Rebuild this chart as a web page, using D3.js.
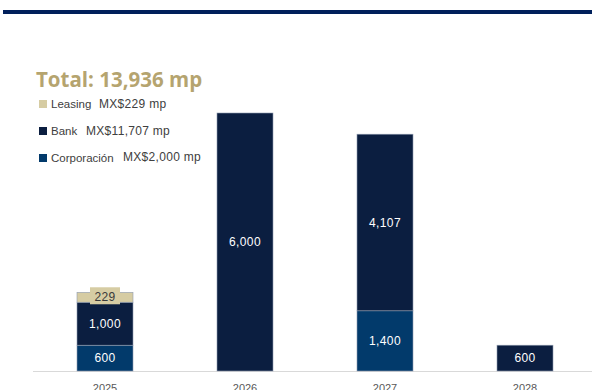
<!DOCTYPE html>
<html>
<head>
<meta charset="utf-8">
<script src="https://cdn.jsdelivr.net/npm/d3@7"></script>
<style>
  body { margin: 0; background: #fff; }
  svg { display: block; }
</style>
</head>
<body>
<div id="graph"></div>
<script>
// chart data
var years = ["2025", "2026", "2027", "2028"];
var corporacion = [600, 0, 1400, 0];
var bank = [1000, 6000, 4107, 600];
var leasing = [229, 0, 0, 0];

var seriesNames = ["Corporación", "Bank", "Leasing"];
var seriesColors = ["#023a6b", "#0b1e40", "#d6cca3"];
var legendNames = ["Leasing", "Bank", "Corporación"];
var legendValues = ["MX$229 mp", "MX$11,707 mp", "MX$2,000 mp"];
var legendColors = ["#d6cca3", "#0b1e40", "#023a6b"];
var titleText = "Total: 13,936 mp";

var width = 592, height = 390;

var svg = d3.select("#graph").append("svg")
    .attr("width", width)
    .attr("height", height);

// top rule
svg.append("rect")
    .attr("x", 3).attr("y", 10)
    .attr("width", width - 3).attr("height", 4)
    .attr("fill", "#00205b");

// build stacked rows from the arrays
var rows = years.map(function (y, i) {
    return { year: y, "Corporación": corporacion[i], "Bank": bank[i], "Leasing": leasing[i] };
});
var stack = d3.stack().keys(seriesNames);
var layers = stack(rows);

var x = d3.scaleBand().domain(years).range([35, 595]).paddingInner(0.6).paddingOuter(0.3);
var y = d3.scaleLinear().domain([0, 6000]).range([371, 113]);

var color = d3.scaleOrdinal().domain(seriesNames).range(seriesColors);

// baseline
svg.append("line")
    .attr("x1", 33).attr("x2", width)
    .attr("y1", 371.5).attr("y2", 371.5)
    .attr("stroke", "#d9d9d9").attr("stroke-width", 1);

var layerG = svg.selectAll(".layer")
    .data(layers)
    .enter().append("g")
    .attr("class", "layer")
    .attr("fill", function (d) { return color(d.key); });

layerG.selectAll("rect")
    .data(function (d) { return d.filter(function (s) { return s[1] - s[0] > 0; }); })
    .enter().append("rect")
    .attr("x", function (d) { return x(d.data.year); })
    .attr("y", function (d) { return y(d[1]); })
    .attr("width", x.bandwidth())
    .attr("height", function (d) { return y(d[0]) - y(d[1]); })
    .attr("stroke", "#8f9bb0")
    .attr("stroke-width", 0.6);

// value labels
layers.forEach(function (layer) {
    layer.forEach(function (d) {
        var v = d[1] - d[0];
        if (v <= 0) return;
        var cx = x(d.data.year) + x.bandwidth() / 2;
        var cy = (y(d[0]) + y(d[1])) / 2;
        var isLeasing = layer.key === "Leasing";
        if (isLeasing) {
            svg.append("rect")
                .attr("x", cx - 15).attr("y", cy - 10)
                .attr("width", 30).attr("height", 17)
                .attr("fill", "#d6cca3");
        }
        svg.append("text")
            .attr("x", cx)
            .attr("y", cy)
            .attr("dy", "0.35em")
            .attr("text-anchor", "middle")
            .attr("font-family", "Liberation Sans, Arial, sans-serif")
            .attr("font-size", 12)
            .attr("letter-spacing", 0.4)
            .attr("fill", isLeasing ? "#3a3a3a" : "#ffffff")
            .text(d3.format(",")(v));
    });
});

// x axis labels
svg.append("g")
    .attr("transform", "translate(0,371)")
    .call(d3.axisBottom(x).tickSize(0).tickPadding(13))
    .call(function (g) { g.select(".domain").remove(); })
    .selectAll("text")
    .attr("font-family", "Liberation Sans, Arial, sans-serif")
    .attr("font-size", 11)
    .attr("fill", "#595959");

// title
svg.append("text")
    .attr("x", 36).attr("y", 87)
    .attr("font-family", "Open Sans, sans-serif")
    .attr("font-weight", "bold")
    .attr("font-size", 20.5)
    .attr("fill", "#b5a46f")
    .text(titleText);

// legend
var legendY = [104, 131, 158];
var legendValX = [99, 86, 123];
var legendValDy = [0, 0, -1.5];
var lg = svg.selectAll(".leg")
    .data(legendNames)
    .enter().append("g")
    .attr("class", "leg")
    .attr("transform", function (d, i) { return "translate(0," + legendY[i] + ")"; });

lg.append("rect")
    .attr("x", 39).attr("y", -4)
    .attr("width", 8).attr("height", 8)
    .attr("fill", function (d, i) { return legendColors[i]; });

lg.append("text")
    .attr("x", 51).attr("y", 4)
    .attr("font-family", "Liberation Sans, Arial, sans-serif")
    .attr("font-size", 11.5)
    .attr("fill", "#404040")
    .text(function (d) { return d; });

lg.append("text")
    .attr("x", function (d, i) { return legendValX[i]; })
    .attr("y", function (d, i) { return 4 + legendValDy[i]; })
    .attr("font-family", "Liberation Sans, Arial, sans-serif")
    .attr("font-size", 12)
    .attr("letter-spacing", 0.3)
    .attr("fill", "#404040")
    .text(function (d, i) { return legendValues[i]; });
</script>
</body>
</html>
